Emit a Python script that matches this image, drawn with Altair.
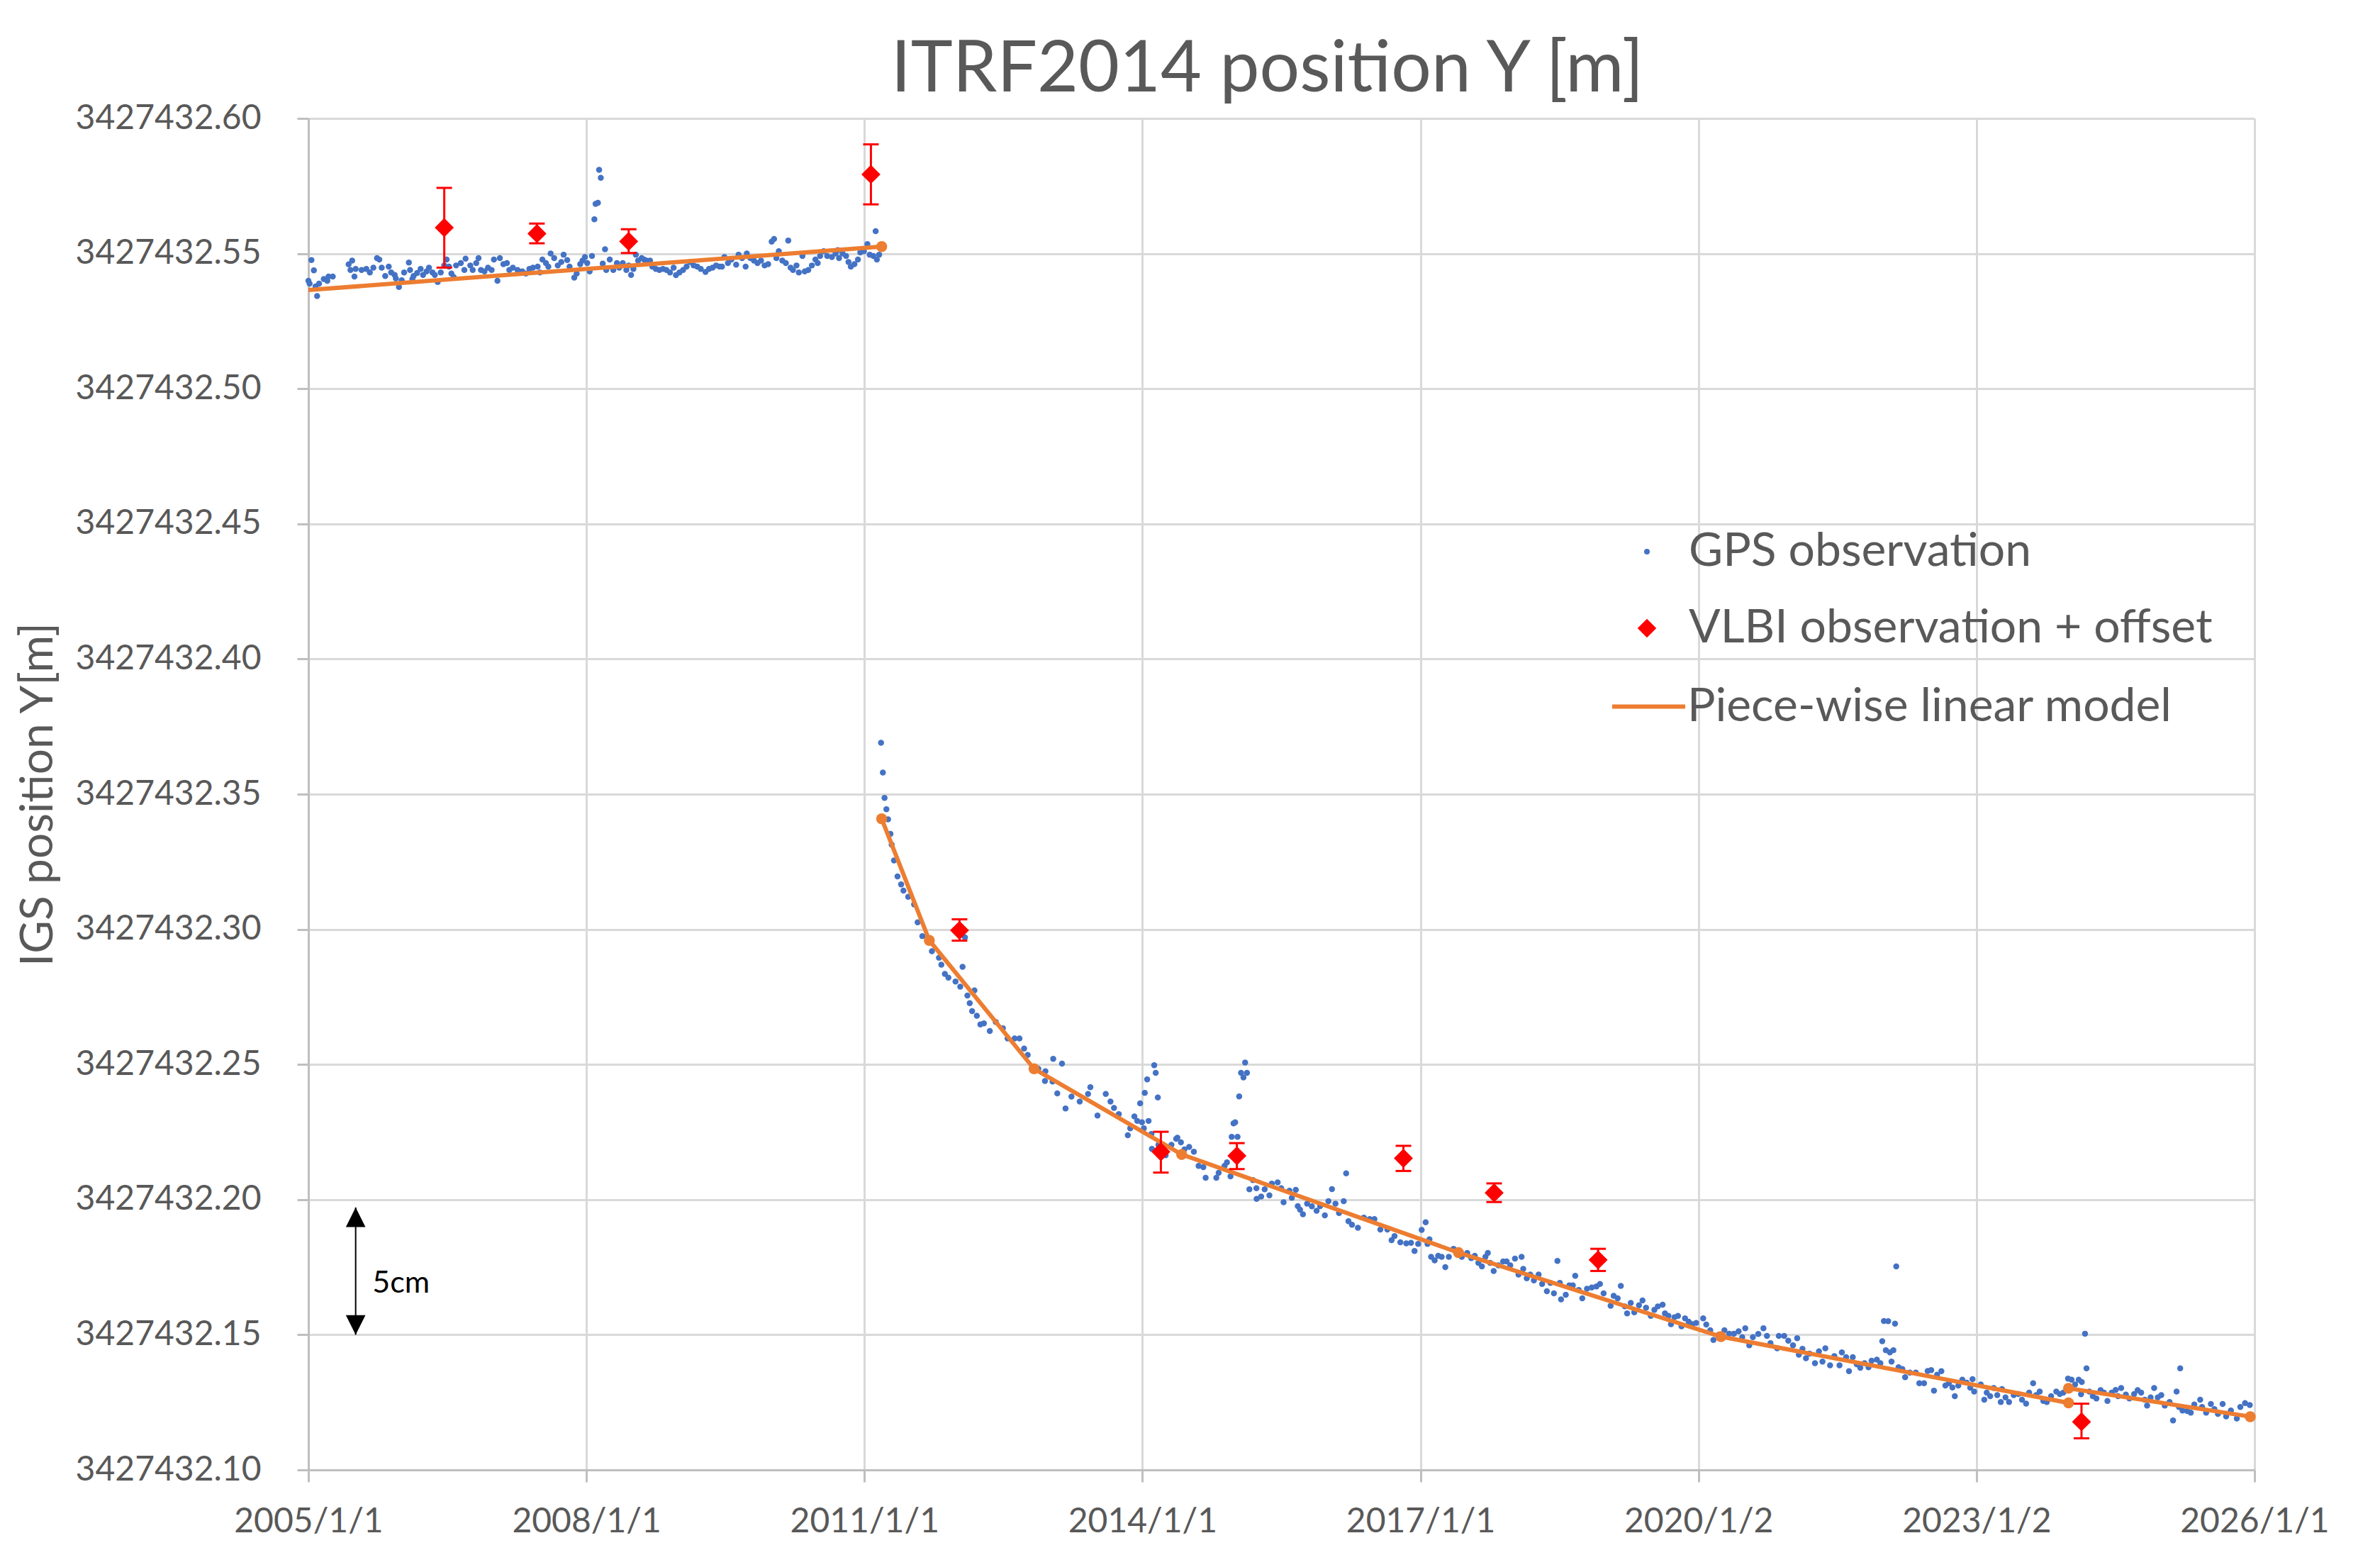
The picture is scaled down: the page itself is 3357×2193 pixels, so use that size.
import altair as alt
import pandas as pd

FONT = "Lato"
GREY_TEXT = "#595959"
BLUE = "#4472C4"
RED = "#FF0000"
ORANGE = "#ED7D31"

BASE = 3427432.0  # integer metres of the Y coordinate, values below are the fraction

# GPS solutions before the 2011 earthquake (decimal year, metres above BASE)
gps_year_pre = [
    2005.000, 2005.033, 2005.059, 2005.013, 2005.094, 2005.077, 2005.115, 2005.166, 2005.204, 2005.217,
    2005.263, 2005.434, 2005.472, 2005.454, 2005.497, 2005.510, 2005.574, 2005.625, 2005.663, 2005.701,
    2005.740, 2005.765, 2005.791, 2005.829, 2005.867, 2005.893, 2005.931, 2005.944, 2005.977, 2006.007,
    2006.033, 2006.084, 2006.097, 2006.122, 2006.135, 2006.173, 2006.211, 2006.237, 2006.275, 2006.301,
    2006.339, 2006.364, 2006.395, 2006.428, 2006.466, 2006.492, 2006.517, 2006.543, 2006.568, 2006.594,
    2006.645, 2006.696, 2006.683, 2006.747, 2006.773, 2006.811, 2006.836, 2006.862, 2006.900, 2006.938,
    2006.977, 2007.002, 2007.040, 2007.066, 2007.104, 2007.142, 2007.168, 2007.206, 2007.257, 2007.308,
    2007.346, 2007.385, 2007.423, 2007.474, 2007.499, 2007.525, 2007.563, 2007.589, 2007.614, 2007.652,
    2007.691, 2007.729, 2007.754, 2007.793, 2007.818, 2007.869, 2007.895, 2007.933, 2007.958, 2007.984,
    2008.009, 2008.035, 2008.060, 2008.086, 2008.099, 2008.124, 2008.137, 2008.155, 2008.201, 2008.176,
    2008.214, 2008.252, 2008.290, 2008.329, 2008.354, 2008.392, 2008.431, 2008.456, 2008.482, 2008.507,
    2008.533, 2008.558, 2008.596, 2008.622, 2008.647, 2008.686, 2008.711, 2008.749, 2008.788, 2008.826,
    2008.864, 2008.902, 2008.941, 2008.966, 2009.004, 2009.043, 2009.081, 2009.119, 2009.157, 2009.196,
    2009.234, 2009.285, 2009.323, 2009.361, 2009.400, 2009.438, 2009.463, 2009.489, 2009.527, 2009.565,
    2009.616, 2009.642, 2009.680, 2009.718, 2009.731, 2009.769, 2009.808, 2009.846, 2009.884, 2009.923,
    2009.961, 2009.999, 2010.025, 2010.050, 2010.076, 2010.114, 2010.152, 2010.178, 2010.203, 2010.229,
    2010.267, 2010.292, 2010.331, 2010.356, 2010.394, 2010.433, 2010.471, 2010.496, 2010.522, 2010.560,
    2010.598, 2010.649, 2010.688, 2010.713, 2010.726, 2010.764, 2010.802, 2010.828, 2010.853, 2010.892,
    2010.930, 2010.955, 2010.994, 2011.032, 2011.057, 2011.096, 2011.121, 2011.134, 2011.159,
]
gps_y_pre = [
    0.5399, 0.5476, 0.5438, 0.5389, 0.5343, 0.5378, 0.5389, 0.5406, 0.5399, 0.5415,
    0.5415, 0.5460, 0.5474, 0.5439, 0.5415, 0.5443, 0.5439, 0.5443, 0.5430, 0.5448,
    0.5483, 0.5478, 0.5448, 0.5417, 0.5452, 0.5430, 0.5421, 0.5408, 0.5376, 0.5401,
    0.5430, 0.5467, 0.5439, 0.5406, 0.5417, 0.5428, 0.5443, 0.5421, 0.5434, 0.5448,
    0.5430, 0.5421, 0.5395, 0.5430, 0.5456, 0.5478, 0.5452, 0.5426, 0.5413, 0.5456,
    0.5465, 0.5481, 0.5439, 0.5456, 0.5439, 0.5465, 0.5483, 0.5439, 0.5434, 0.5448,
    0.5439, 0.5478, 0.5399, 0.5483, 0.5461, 0.5465, 0.5439, 0.5448, 0.5439, 0.5434,
    0.5426, 0.5443, 0.5448, 0.5452, 0.5430, 0.5478, 0.5465, 0.5452, 0.5500, 0.5483,
    0.5456, 0.5469, 0.5496, 0.5476, 0.5452, 0.5411, 0.5426, 0.5461, 0.5474, 0.5487,
    0.5465, 0.5434, 0.5491, 0.5627, 0.5684, 0.5688, 0.5810, 0.5780, 0.5516, 0.5463,
    0.5439, 0.5478, 0.5439, 0.5465, 0.5448, 0.5465, 0.5439, 0.5456, 0.5421, 0.5443,
    0.5496, 0.5474, 0.5483, 0.5478, 0.5474, 0.5474, 0.5452, 0.5443, 0.5439, 0.5443,
    0.5439, 0.5430, 0.5448, 0.5420, 0.5430, 0.5439, 0.5452, 0.5469, 0.5456, 0.5452,
    0.5443, 0.5432, 0.5443, 0.5448, 0.5456, 0.5452, 0.5452, 0.5487, 0.5465, 0.5478,
    0.5459, 0.5496, 0.5483, 0.5452, 0.5500, 0.5483, 0.5474, 0.5465, 0.5474, 0.5456,
    0.5461, 0.5544, 0.5554, 0.5483, 0.5509, 0.5474, 0.5465, 0.5548, 0.5448, 0.5439,
    0.5456, 0.5430, 0.5491, 0.5434, 0.5439, 0.5456, 0.5478, 0.5465, 0.5491, 0.5509,
    0.5491, 0.5487, 0.5500, 0.5513, 0.5483, 0.5500, 0.5491, 0.5469, 0.5452, 0.5461,
    0.5478, 0.5504, 0.5509, 0.5535, 0.5496, 0.5491, 0.5583, 0.5478, 0.5496,
]

# GPS solutions after the earthquake
gps_year_post = [
    2011.179, 2011.199, 2011.217, 2011.237, 2011.255, 2011.281, 2011.294, 2011.319, 2011.357, 2011.396,
    2011.421, 2011.472, 2011.536, 2011.574, 2011.625, 2011.728, 2011.804, 2011.830, 2011.868, 2011.906,
    2011.983, 2012.034, 2012.059, 2012.085, 2012.111, 2012.187, 2012.136, 2012.162, 2012.213, 2012.251,
    2012.289, 2012.353, 2012.417, 2012.494, 2012.545, 2012.621, 2012.673, 2012.723, 2012.762, 2012.876,
    2012.953, 2012.948, 2013.030, 2013.037, 2013.132, 2013.081, 2013.170, 2013.234, 2013.323, 2013.438,
    2013.413, 2013.515, 2013.604, 2013.655, 2013.693, 2013.745,
    2013.842, 2013.868, 2013.913, 2013.944, 2013.975, 2013.995, 2014.015, 2014.025, 2014.051, 2014.066,
    2014.097, 2014.102, 2014.127, 2014.143, 2014.166, 2014.173, 2014.250, 2014.313, 2014.364, 2014.377,
    2014.415, 2014.453, 2014.504, 2014.555, 2014.606, 2014.657, 2014.682, 2014.797, 2014.822, 2014.886,
    2014.912, 2014.950, 2014.963, 2015.026, 2014.983, 2015.001, 2015.044, 2015.064, 2015.090, 2015.108,
    2015.128, 2015.154, 2015.192, 2015.230, 2015.232, 2015.281, 2015.319, 2015.370, 2015.396, 2015.459,
    2015.497, 2015.523, 2015.586, 2015.612, 2015.655, 2015.676, 2015.701, 2015.732, 2015.777, 2015.828,
    2015.879, 2015.917, 2015.968, 2016.007, 2016.045, 2016.083, 2016.121, 2016.172, 2016.198, 2016.223,
    2016.261, 2016.325, 2016.389, 2016.452, 2016.503, 2016.567, 2016.643, 2016.688, 2016.720, 2016.783,
    2016.847,
    2016.898, 2016.936, 2016.975, 2017.013, 2017.056, 2017.076, 2017.097, 2017.115, 2017.153, 2017.191,
    2017.229, 2017.268, 2017.306, 2017.357, 2017.446, 2017.505, 2017.548, 2017.586, 2017.625, 2017.663,
    2017.701, 2017.727, 2017.752, 2017.790, 2017.841, 2017.892, 2017.930, 2017.969, 2018.020, 2018.058,
    2018.091, 2018.109, 2018.147, 2018.185, 2018.224, 2018.275, 2018.313, 2018.364, 2018.402, 2018.440,
    2018.478, 2018.504, 2018.517, 2018.568, 2018.606, 2018.644, 2018.670, 2018.708, 2018.746, 2018.797,
    2018.848, 2018.899, 2018.937, 2018.976, 2019.052, 2019.085, 2019.128, 2019.162, 2019.205, 2019.230,
    2019.269, 2019.307, 2019.358, 2019.396, 2019.434, 2019.485, 2019.524, 2019.562, 2019.613, 2019.638,
    2019.676, 2019.703, 2019.741, 2019.779, 2019.817, 2019.855, 2019.894, 2019.932,
    2019.975, 2020.051, 2020.084, 2020.127, 2020.161, 2020.217, 2020.280, 2020.331, 2020.382, 2020.433,
    2020.472, 2020.505, 2020.548, 2020.587, 2020.645, 2020.701, 2020.739, 2020.777, 2020.849, 2020.867,
    2020.925, 2020.969, 2021.020, 2021.065, 2021.083, 2021.122, 2021.160, 2021.198, 2021.257, 2021.300,
    2021.338, 2021.369, 2021.420, 2021.466, 2021.522, 2021.547, 2021.593, 2021.624, 2021.665, 2021.708,
    2021.746, 2021.792, 2021.835, 2021.868, 2021.925, 2021.963, 2021.983, 2022.001, 2022.047, 2022.022,
    2022.065, 2022.103, 2022.121, 2022.134, 2022.083, 2022.159, 2022.200, 2022.230, 2022.281, 2022.345,
    2022.383, 2022.434, 2022.473, 2022.511, 2022.541, 2022.575, 2022.621, 2022.664, 2022.702, 2022.740,
    2022.766, 2022.804, 2022.847, 2022.893, 2022.932,
    2022.957, 2022.975, 2023.046, 2023.084, 2023.110, 2023.148, 2023.186, 2023.224, 2023.262, 2023.275,
    2023.313, 2023.351, 2023.402, 2023.453, 2023.491, 2023.535, 2023.568, 2023.611, 2023.644, 2023.682,
    2023.721, 2023.759, 2023.805, 2023.861, 2023.899, 2023.937, 2023.988, 2024.026, 2024.064, 2024.103,
    2024.136, 2024.171, 2024.187, 2024.128, 2024.217, 2024.255, 2024.294, 2024.339, 2024.375, 2024.413,
    2024.459, 2024.502, 2024.528, 2024.561, 2024.612, 2024.650, 2024.701, 2024.739, 2024.777, 2024.816,
    2024.841, 2024.879, 2024.917, 2024.956, 2024.994, 2025.032, 2025.083, 2025.121, 2025.159, 2025.198,
    2025.185, 2025.223, 2025.274, 2025.312, 2025.350, 2025.414, 2025.434, 2025.478, 2025.529, 2025.567,
    2025.605, 2025.656, 2025.694, 2025.745, 2025.809, 2025.847, 2025.898, 2025.949,
]
gps_y_post = [
    0.3690, 0.3580, 0.3486, 0.3444, 0.3407, 0.3353, 0.3313, 0.3255, 0.3196, 0.3166,
    0.3143, 0.3120, 0.3092, 0.3026, 0.2975, 0.2919, 0.2895, 0.2869, 0.2835, 0.2821,
    0.2807, 0.2788, 0.2861, 0.2970, 0.2755, 0.2774, 0.2727, 0.2697, 0.2680, 0.2648,
    0.2652, 0.2624, 0.2657, 0.2634, 0.2596, 0.2596, 0.2596, 0.2559, 0.2535, 0.2484,
    0.2475, 0.2439, 0.2437, 0.2521, 0.2503, 0.2393, 0.2337, 0.2381, 0.2363, 0.2416,
    0.2391, 0.2311, 0.2391, 0.2363, 0.2339, 0.2316,
    0.2238, 0.2264, 0.2308, 0.2291, 0.2356, 0.2286, 0.2264, 0.2395, 0.2445, 0.2291,
    0.2243, 0.2188, 0.2497, 0.2469, 0.2378, 0.2203, 0.2164, 0.2203, 0.2225, 0.2229,
    0.2212, 0.2186, 0.2195, 0.2177, 0.2125, 0.2120, 0.2081, 0.2081, 0.2099, 0.2125,
    0.2138, 0.2086, 0.2232, 0.2232, 0.2282, 0.2286, 0.2382, 0.2469, 0.2452, 0.2507,
    0.2469, 0.2038, 0.2072, 0.2042, 0.2003, 0.2011, 0.2038, 0.2016, 0.2059, 0.2064,
    0.2042, 0.1990, 0.2033, 0.2007, 0.2036, 0.1976, 0.1963, 0.1946, 0.1985, 0.1975,
    0.1959, 0.1976, 0.1942, 0.1994, 0.2039, 0.1985, 0.1950, 0.1994, 0.2097, 0.1920,
    0.1907, 0.1896, 0.1933, 0.1928, 0.1928, 0.1889, 0.1889, 0.1850, 0.1865, 0.1842,
    0.1838,
    0.1840, 0.1810, 0.1836, 0.1888, 0.1916, 0.1836, 0.1853, 0.1788, 0.1775, 0.1792,
    0.1788, 0.1750, 0.1788, 0.1818, 0.1788, 0.1803, 0.1784, 0.1792, 0.1766, 0.1753,
    0.1788, 0.1803, 0.1766, 0.1736, 0.1757, 0.1771, 0.1771, 0.1757, 0.1782, 0.1723,
    0.1788, 0.1744, 0.1709, 0.1723, 0.1701, 0.1723, 0.1688, 0.1661, 0.1692, 0.1653,
    0.1773, 0.1692, 0.1631, 0.1648, 0.1683, 0.1683, 0.1718, 0.1666, 0.1635, 0.1670,
    0.1675, 0.1679, 0.1688, 0.1653, 0.1607, 0.1644, 0.1635, 0.1681, 0.1605, 0.1579,
    0.1618, 0.1583, 0.1609, 0.1627, 0.1600, 0.1570, 0.1592, 0.1605, 0.1611, 0.1579,
    0.1570, 0.1539, 0.1565, 0.1570, 0.1531, 0.1561, 0.1548, 0.1539,
    0.1544, 0.1561, 0.1538, 0.1517, 0.1481, 0.1500, 0.1517, 0.1504, 0.1504, 0.1513,
    0.1491, 0.1524, 0.1461, 0.1491, 0.1503, 0.1524, 0.1496, 0.1469, 0.1450, 0.1496,
    0.1496, 0.1478, 0.1461, 0.1487, 0.1426, 0.1448, 0.1413, 0.1430, 0.1395, 0.1439,
    0.1401, 0.1450, 0.1387, 0.1421, 0.1387, 0.1435, 0.1417, 0.1365, 0.1417, 0.1391,
    0.1378, 0.1395, 0.1380, 0.1404, 0.1408, 0.1395, 0.1476, 0.1551, 0.1550, 0.1443,
    0.1435, 0.1443, 0.1541, 0.1753, 0.1401, 0.1380, 0.1373, 0.1343, 0.1360, 0.1360,
    0.1321, 0.1321, 0.1366, 0.1369, 0.1293, 0.1352, 0.1365, 0.1312, 0.1321, 0.1305,
    0.1273, 0.1312, 0.1334, 0.1323, 0.1304,
    0.1336, 0.1290, 0.1316, 0.1260, 0.1286, 0.1273, 0.1303, 0.1277, 0.1251, 0.1299,
    0.1268, 0.1251, 0.1277, 0.1281, 0.1260, 0.1245, 0.1286, 0.1321, 0.1277, 0.1290,
    0.1255, 0.1251, 0.1273, 0.1290, 0.1281, 0.1286, 0.1338, 0.1334, 0.1316, 0.1334,
    0.1325, 0.1504, 0.1376, 0.1280, 0.1290, 0.1273, 0.1264, 0.1295, 0.1286, 0.1255,
    0.1286, 0.1296, 0.1273, 0.1303, 0.1279, 0.1264, 0.1281, 0.1295, 0.1286, 0.1260,
    0.1238, 0.1268, 0.1303, 0.1268, 0.1277, 0.1238, 0.1251, 0.1183, 0.1290, 0.1376,
    0.1233, 0.1220, 0.1218, 0.1212, 0.1242, 0.1260, 0.1233, 0.1212, 0.1244, 0.1225,
    0.1207, 0.1244, 0.1198, 0.1220, 0.1190, 0.1233, 0.1247, 0.1240,
]

# VLBI observations + offset, with error bar ends
vlbi_year = [2006.466, 2007.466, 2008.456, 2011.070, 2012.026, 2014.199, 2015.019, 2016.816, 2017.795, 2018.917, 2024.133]
vlbi_y = [0.5596, 0.5574, 0.5545, 0.5793, 0.2996, 0.2177, 0.2162, 0.2153, 0.2025, 0.1777, 0.1178]
vlbi_lo = [0.5448, 0.5538, 0.5502, 0.5682, 0.2958, 0.2100, 0.2113, 0.2106, 0.1991, 0.1736, 0.1117]
vlbi_hi = [0.5743, 0.5611, 0.5590, 0.5904, 0.3037, 0.2251, 0.2209, 0.2199, 0.2060, 0.1818, 0.1245]

# piece-wise linear model nodes, three segments
model_year = [2005.000, 2011.186, 2011.186, 2011.700, 2012.830, 2014.423, 2017.410, 2020.242, 2023.993, 2023.993, 2025.954]
model_y = [0.5365, 0.5526, 0.3409, 0.2959, 0.2484, 0.2167, 0.1804, 0.1493, 0.1248, 0.1302, 0.1197]
model_seg = [1, 1, 2, 2, 2, 2, 2, 2, 2, 3, 3]

x_ticks = [2005, 2008, 2011, 2014, 2017, 2020, 2023, 2026]
x_labels = ["2005/1/1", "2008/1/1", "2011/1/1", "2014/1/1", "2017/1/1", "2020/1/2", "2023/1/2", "2026/1/1"]
y_ticks = [0.10, 0.15, 0.20, 0.25, 0.30, 0.35, 0.40, 0.45, 0.50, 0.55, 0.60]

# "5cm" scale arrow
arrow_year = 2005.51
arrow_top = 0.1971
arrow_bottom = 0.150
arrow_text = "5cm"
arrow_text_year = 2005.69
arrow_text_y = 0.169

GPS_NAME = "GPS observation"
VLBI_NAME = "VLBI observation + offset"
MODEL_NAME = "Piece-wise linear model"

gps = pd.DataFrame({
    "year": gps_year_pre + gps_year_post,
    "y": [BASE + v for v in gps_y_pre + gps_y_post],
    "series": GPS_NAME,
})
vlbi = pd.DataFrame({
    "year": vlbi_year,
    "y": [BASE + v for v in vlbi_y],
    "lo": [BASE + v for v in vlbi_lo],
    "hi": [BASE + v for v in vlbi_hi],
    "series": VLBI_NAME,
})
model = pd.DataFrame({
    "year": model_year,
    "y": [BASE + v for v in model_y],
    "seg": model_seg,
    "series": MODEL_NAME,
})
arrow = pd.DataFrame({
    "year": [arrow_year],
    "top": [BASE + arrow_top],
    "bottom": [BASE + arrow_bottom],
})
arrow_label = pd.DataFrame({"year": [arrow_text_year], "y": [BASE + arrow_text_y], "label": [arrow_text]})

label_expr = "[{}][indexof([{}], datum.value)]".format(
    ",".join("'%s'" % s for s in x_labels), ",".join(str(t) for t in x_ticks)
)

x_scale = alt.Scale(domain=[2005, 2026], nice=False, zero=False)
y_scale = alt.Scale(domain=[BASE + 0.10, BASE + 0.60], nice=False, zero=False)
x_axis = alt.Axis(
    values=x_ticks, labelExpr=label_expr, labelFontSize=48, labelPadding=32,
    tickSize=17, labelFlush=False, labelOverlap=False, labelLimit=1000,
)
y_axis = alt.Axis(
    values=[BASE + v for v in y_ticks], format=".2f", labelFontSize=48, labelPadding=51,
    tickSize=16, labelOverlap=False, labelLimit=1000, titleFontSize=64, titleX=-381, titleY=953,
    titleAngle=270, titleAlign="center", titleBaseline="middle", titleLimit=2000,
)
Y_TITLE = "IGS position Y[m]"
LEGEND_FONT_SIZE = 66


def xenc():
    return alt.X("year:Q", scale=x_scale, axis=x_axis, title=None)


def yenc(field):
    return alt.Y(field + ":Q", scale=y_scale, axis=y_axis, title=Y_TITLE)


def legend(x, y, symbol, size, offset, **kw):
    return alt.Legend(
        orient="none", legendX=x, legendY=y, title=None, padding=0,
        symbolType=symbol, symbolSize=size, labelOffset=offset, labelLimit=2000,
        labelFont=FONT, labelFontSize=LEGEND_FONT_SIZE, labelColor=GREY_TEXT, symbolOpacity=1, **kw
    )


gps_layer = alt.Chart(gps).mark_circle(size=72, opacity=1).encode(
    x=xenc(), y=yenc("y"),
    color=alt.Color("series:N", scale=alt.Scale(domain=[GPS_NAME], range=[BLUE]),
                    legend=legend(1855, 578, "circle", 64, 26)),
)

model_line = alt.Chart(model).mark_line(strokeWidth=6).encode(
    x=xenc(), y=yenc("y"), detail="seg:N",
    color=alt.Color("series:N", scale=alt.Scale(domain=[MODEL_NAME], range=[ORANGE]),
                    legend=legend(1836, 775, "stroke", 10609, 0, symbolStrokeWidth=6)),
)

model_nodes = alt.Chart(model).transform_filter("datum.year > 2005.01").mark_circle(
    size=240, color=ORANGE, opacity=1
).encode(x=xenc(), y=yenc("y"))

err_rule = alt.Chart(vlbi).mark_rule(color=RED, strokeWidth=3).encode(
    x=xenc(), y=yenc("lo"), y2="hi:Q"
)

err_caps = alt.Chart(vlbi).transform_fold(["lo", "hi"], as_=["end", "cap"]).mark_tick(
    orient="horizontal", color=RED, size=22, thickness=3, opacity=1
).encode(x=xenc(), y=yenc("cap"))

vlbi_layer = alt.Chart(vlbi).mark_point(shape="diamond", filled=True, size=720, opacity=1).encode(
    x=xenc(), y=yenc("y"),
    color=alt.Color("series:N", scale=alt.Scale(domain=[VLBI_NAME], range=[RED]),
                    legend=legend(1855, 686, "diamond", 700, 26)),
)

arrow_rule = alt.Chart(arrow).mark_rule(color="black", strokeWidth=2).encode(
    x=xenc(), y=yenc("top"), y2="bottom:Q"
)
arrow_up = alt.Chart(arrow).mark_point(
    shape="M0,0L1,2L-1,2Z", filled=True, size=768, color="black", opacity=1, strokeWidth=0
).encode(x=xenc(), y=yenc("top"))
arrow_down = alt.Chart(arrow).mark_point(
    shape="M0,0L1,-2L-1,-2Z", filled=True, size=768, color="black", opacity=1, strokeWidth=0
).encode(x=xenc(), y=yenc("bottom"))
arrow_txt = alt.Chart(arrow_label).mark_text(
    align="left", baseline="middle", fontSize=43, font=FONT, color="black"
).encode(x=xenc(), y=yenc("y"), text="label:N")

chart = (
    alt.layer(
        gps_layer, model_line, model_nodes, err_rule, err_caps, vlbi_layer,
        arrow_rule, arrow_up, arrow_down, arrow_txt,
    )
    .resolve_scale(color="independent")
    .properties(
        width=2745,
        height=1906,
        autosize=alt.AutoSizeParams(type="none"),
        padding={"left": 427, "top": 159, "right": 160, "bottom": 100},
        title=alt.Title(
            "ITRF2014 position Y [m]", fontSize=100, font=FONT, fontWeight="normal",
            color=GREY_TEXT, anchor="middle", frame="group", offset=32,
            baseline="alphabetic", dx=-20, dy=118,
        ),
    )
    .configure_view(strokeWidth=0)
    .configure_axis(
        labelFont=FONT, titleFont=FONT, labelColor=GREY_TEXT, titleColor=GREY_TEXT,
        titleFontWeight="normal", gridColor="#D9D9D9", gridWidth=3,
        domainColor="#BFBFBF", domainWidth=3, tickColor="#BFBFBF", tickWidth=3,
    )
)

chart.save("out.html", embed_options={"renderer": "svg", "actions": False})
